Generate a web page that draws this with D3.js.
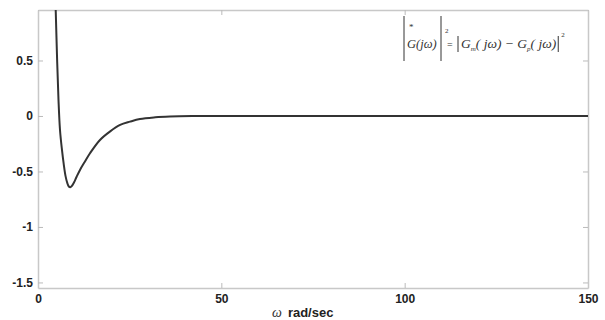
<!DOCTYPE html>
<html>
<head>
<meta charset="utf-8">
<script src="https://cdn.jsdelivr.net/npm/d3@7"></script>
<style>
  body { margin: 0; background: #fff; }
  .tick text { font-family: Arial, "Liberation Sans", sans-serif; font-weight: bold; font-size: 12px; fill: #222; }
  .formula { font-family: "Liberation Serif", "Times New Roman", serif; fill: #333; }
</style>
</head>
<body>
<div id="chart"></div>
<script>
// values
const omega = [4.5, 4.83, 5.2, 5.59, 6.0, 6.54, 7.0, 7.5, 8.0, 8.4, 8.8, 9.2, 9.8, 10.5, 11.45, 12.8, 14.18, 16.9, 19.6, 22.4, 25.1, 27.8, 32, 36, 42, 50, 75, 100, 150];
const gain = [1.3, 0.955, 0.52, 0.144, -0.126, -0.306, -0.43, -0.54, -0.605, -0.635, -0.642, -0.632, -0.6, -0.55, -0.486, -0.41, -0.336, -0.216, -0.141, -0.081, -0.051, -0.027, -0.012, -0.005, -0.001, 0, 0, 0, 0];
const xTicks = [0, 50, 100, 150];
const yTicks = [-1.5, -1, -0.5, 0, 0.5];

const width = 605, height = 320;
const margin = { top: 10, right: 17, bottom: 32, left: 38 };

const svg = d3.select('#chart').append('svg')
  .attr('width', width)
  .attr('height', height);

const x = d3.scaleLinear().domain([0, 150]).range([margin.left, width - margin.right]);
const y = d3.scaleLinear().domain([-1.55, 0.955]).range([height - margin.bottom, margin.top]);

svg.append('clipPath').attr('id', 'plot')
  .append('rect')
  .attr('x', margin.left).attr('y', margin.top)
  .attr('width', x.range()[1] - margin.left)
  .attr('height', y.range()[0] - margin.top);

const axisColor = '#c8c8c8';

const styleAxis = (g) => {
  g.select('.domain').attr('stroke', axisColor).attr('stroke-width', 1.5);
  g.selectAll('.tick line').attr('stroke', '#bbb');
};

svg.append('g')
  .attr('transform', `translate(0,${y.range()[0]})`)
  .call(d3.axisBottom(x).tickValues(xTicks).tickSize(-5).tickPadding(6).tickSizeOuter(0).tickFormat((d) => String(d)))
  .call(styleAxis);

svg.append('g')
  .attr('transform', `translate(0,${margin.top})`)
  .call(d3.axisTop(x).tickValues(xTicks).tickSize(-5).tickSizeOuter(0).tickFormat(''))
  .call(styleAxis);

svg.append('g')
  .attr('transform', `translate(${margin.left},0)`)
  .call(d3.axisLeft(y).tickValues(yTicks).tickSize(-5).tickPadding(5).tickSizeOuter(0).tickFormat((d) => String(d)))
  .call(styleAxis);

svg.append('g')
  .attr('transform', `translate(${x.range()[1]},0)`)
  .call(d3.axisRight(y).tickValues(yTicks).tickSize(-5).tickSizeOuter(0).tickFormat(''))
  .call(styleAxis);

const line = d3.line()
  .x((d, i) => x(omega[i]))
  .y((d) => y(d))
  .curve(d3.curveCatmullRom.alpha(0.5));

svg.append('path')
  .datum(gain)
  .attr('clip-path', 'url(#plot)')
  .attr('fill', 'none')
  .attr('stroke', '#333')
  .attr('stroke-width', 2)
  .attr('d', line);

// x label
const xl = svg.append('text')
  .attr('x', 272).attr('y', 317);
xl.append('tspan')
  .attr('font-family', '"Liberation Serif", serif')
  .attr('font-style', 'italic')
  .attr('font-size', 14)
  .attr('fill', '#333')
  .text('ω');
xl.append('tspan')
  .attr('dx', 6)
  .attr('font-family', 'Arial, "Liberation Sans", sans-serif')
  .attr('font-weight', 'bold')
  .attr('font-size', 13)
  .attr('fill', '#222')
  .text('rad/sec');

// formula
const f = svg.append('g').attr('class', 'formula');
const bar = (x0, y0, y1) => f.append('line')
  .attr('x1', x0).attr('x2', x0).attr('y1', y0).attr('y2', y1)
  .attr('stroke', '#333').attr('stroke-width', 1);
bar(404, 16, 61);
bar(441, 16, 61);
bar(458, 36, 52);
f.append('text').attr('x', 409).attr('y', 30).attr('font-size', 9).text('*');
f.append('text').attr('x', 407).attr('y', 48).attr('font-size', 12.5).attr('font-style', 'italic').text('G(jω)');
f.append('text').attr('x', 445).attr('y', 33).attr('font-size', 7).text('2');
f.append('text').attr('x', 447).attr('y', 48).attr('font-size', 10).text('=');
const rhs = f.append('text').attr('x', 461).attr('y', 48).attr('font-size', 13.5).attr('font-style', 'italic');
rhs.append('tspan').text('G');
rhs.append('tspan').attr('font-size', 7).attr('dy', 3).text('m');
rhs.append('tspan').attr('dy', -3).text('( jω) − G');
rhs.append('tspan').attr('font-size', 7).attr('dy', 3).text('p');
rhs.append('tspan').attr('dy', -3).text('( jω)');
const rEnd = 461 + rhs.node().getComputedTextLength() + 2;
bar(rEnd, 36, 52);
f.append('text').attr('x', rEnd + 3).attr('y', 37).attr('font-size', 7).text('2');
</script>
</body>
</html>
